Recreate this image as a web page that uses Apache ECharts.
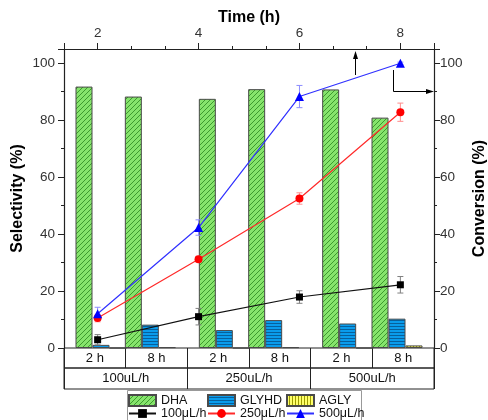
<!DOCTYPE html>
<html><head><meta charset="utf-8">
<script src="https://cdn.jsdelivr.net/npm/echarts@6/dist/echarts.min.js"></script>
<style>html,body{margin:0;padding:0;background:#fff}#c{width:488px;height:420px}</style>
</head><body><div id="c"></div>
<script>
// ---- data ----
const flowGroups = ['100uL/h', '250uL/h', '500uL/h'];
const sampleTimes = ['2 h', '8 h', '2 h', '8 h', '2 h', '8 h'];
const barX = [1, 2, 3.5, 4.5, 6, 7];            // bar positions on the (hidden) bottom axis
const dha = [91.8, 88.3, 87.5, 90.9, 90.8, 80.9];
const glyhd = [1.1, 8.2, 6.3, 9.8, 8.6, 10.3];
const agly = [0, 0.3, 0, 0.3, 0, 0.9];
const timeH = [2, 4, 6, 8];
const conv100 = [2.9, 11.0, 17.9, 22.2];
const conv250 = [10.5, 31.2, 52.5, 82.8];
const conv500 = [12.0, 42.3, 88.3, 100];
const err100 = [1.8, 2.9, 2.2, 2.9];
const err250 = [1.3, 1.0, 2.0, 3.2];
const err500 = [2.3, 2.7, 3.9, 0.4];
const timeTicks = [2, 4, 6, 8];
const selTicks = [0, 20, 40, 60, 80, 100];

// ---- patterns ----
function pattern(w, h, bg, fg, draw) {
  const c = document.createElement('canvas'); c.width = w; c.height = h;
  const g = c.getContext('2d'); g.fillStyle = bg; g.fillRect(0, 0, w, h);
  g.strokeStyle = fg; g.fillStyle = fg; g.lineWidth = 1; draw(g);
  return { image: c, repeat: 'repeat' };
}
const pDHA = pattern(5, 5, '#86e46c', '#3d9a2e', g => {
  g.beginPath(); g.moveTo(-1, 6); g.lineTo(6, -1); g.moveTo(-1, 1); g.lineTo(1, -1);
  g.moveTo(4, 6); g.lineTo(6, 4); g.stroke();
});
const pGLY = pattern(4, 3, '#0a9cec', '#07609c', g => { g.fillRect(0, 2, 4, 1); });
const pAGL = pattern(3, 4, '#ffff6a', '#9c9c00', g => { g.fillRect(2, 0, 1, 4); });

const FONT = '"Liberation Sans", Arial, sans-serif';

function errSeries(vals, errs, color) {
  return {
    type: 'custom', xAxisIndex: 1, yAxisIndex: 1, z: 3, silent: true,
    data: timeH.map((t, i) => [t, vals[i] - errs[i], vals[i] + errs[i]]),
    encode: { x: 0, y: [1, 2] },
    renderItem: (p, api) => {
      const lo = api.coord([api.value(0), api.value(1)]);
      const hi = api.coord([api.value(0), api.value(2)]);
      const w = 3, st = { stroke: color, lineWidth: 1 };
      return { type: 'group', children: [
        { type: 'line', shape: { x1: lo[0], y1: lo[1], x2: hi[0], y2: hi[1] }, style: st },
        { type: 'line', shape: { x1: lo[0] - w, y1: lo[1], x2: lo[0] + w, y2: lo[1] }, style: st },
        { type: 'line', shape: { x1: hi[0] - w, y1: hi[1], x2: hi[0] + w, y2: hi[1] }, style: st }
      ]};
    }
  };
}

const axisCol = '#222';
const valAxisCommon = {
  type: 'value', gridIndex: 0, min: 0, max: 105, interval: 20,
  nameLocation: 'middle', nameMoveOverlap: false,
  nameTextStyle: { fontWeight: 'bold', fontSize: 16, color: '#000', fontFamily: FONT },
  axisLine: { show: true, onZero: false, lineStyle: { color: axisCol, width: 1.2 } },
  axisTick: { show: true, length: 6, lineStyle: { color: axisCol } },
  minorTick: { show: true, splitNumber: 2, length: 3, lineStyle: { color: axisCol } },
  splitLine: { show: false },
  axisLabel: { fontSize: 13.5, color: '#333', fontFamily: FONT,
    formatter: v => selTicks.includes(v) ? String(v) : '' }
};

const legendCommon = {
  orient: 'vertical', top: 394, itemWidth: 27, itemHeight: 11, itemGap: 0, padding: 0,
  selectedMode: false,
  textStyle: { fontSize: 12.5, lineHeight: 13, color: '#111', fontFamily: FONT }
};

const gridCommon = { left: 64, right: 54, outerBoundsMode: 'none', containLabel: false };

const option = {
  animation: false,
  backgroundColor: '#fff',
  textStyle: { fontFamily: FONT },
  grid: [
    Object.assign({}, gridCommon, { top: 49, bottom: 72 }),
    Object.assign({}, gridCommon, { top: 348, height: 20, show: true, borderColor: '#222', borderWidth: 1, backgroundColor: 'transparent' }),
    Object.assign({}, gridCommon, { top: 368, height: 21, show: true, borderColor: '#222', borderWidth: 1, backgroundColor: 'transparent' })
  ],
  xAxis: [
    { type: 'value', gridIndex: 0, min: 0.25, max: 7.75, show: false },
    { type: 'value', gridIndex: 0, position: 'top', min: 4 / 3, max: 26 / 3, splitNumber: 4,
      name: 'Time (h)', nameLocation: 'middle', nameGap: 23, nameMoveOverlap: false,
      nameTextStyle: { fontWeight: 'bold', fontSize: 16, color: '#000', fontFamily: FONT },
      axisLine: { show: true, onZero: false, lineStyle: { color: axisCol, width: 1.2 } },
      axisTick: { show: true, length: 6, lineStyle: { color: axisCol } },
      minorTick: { show: true, splitNumber: 3, length: 3, lineStyle: { color: axisCol } },
      splitLine: { show: false },
      axisLabel: { fontSize: 13.5, color: '#333', margin: 9, fontFamily: FONT,
        formatter: v => timeTicks.includes(v) ? String(v) : '' } },
    { type: 'category', gridIndex: 1, position: 'top', data: sampleTimes,
      axisLine: { show: false }, axisTick: { show: false },
      splitLine: { show: true, interval: 0, lineStyle: { color: '#222' } },
      axisLabel: { inside: true, margin: 4, interval: 0, fontSize: 13, color: '#111', fontFamily: FONT } },
    { type: 'category', gridIndex: 2, position: 'top', data: flowGroups,
      axisLine: { show: false }, axisTick: { show: false },
      splitLine: { show: true, interval: 0, lineStyle: { color: '#222' } },
      axisLabel: { inside: true, margin: 4, interval: 0, fontSize: 13, color: '#111', fontFamily: FONT } }
  ],
  yAxis: [
    Object.assign({}, valAxisCommon, { position: 'left', name: 'Selectivity (%)', nameGap: 38,
      axisLabel: Object.assign({}, valAxisCommon.axisLabel, { margin: 9 }) }),
    Object.assign({}, valAxisCommon, { position: 'right', name: 'Conversion (%)', nameGap: 38,
      axisLabel: Object.assign({}, valAxisCommon.axisLabel, { margin: 6 }) }),
    { type: 'value', gridIndex: 1, show: false },
    { type: 'value', gridIndex: 2, show: false }
  ],
  legend: [
    Object.assign({}, legendCommon, { left: 128, data: [{ name: 'DHA', icon: 'rect' }, '100μL/h'] }),
    Object.assign({}, legendCommon, { left: 207, data: [{ name: 'GLYHD', icon: 'rect' }, '250μL/h'] }),
    Object.assign({}, legendCommon, { left: 286, data: [{ name: 'AGLY', icon: 'rect' }, '500μL/h'] })
  ],
  graphic: [
    { type: 'rect', z: 0, shape: { x: 127.5, y: 390.5, width: 234, height: 40 }, style: { fill: 'none', stroke: '#999', lineWidth: 1 } },
    { type: 'line', shape: { x1: 355.5, y1: 75, x2: 355.5, y2: 57 }, style: { stroke: '#000', lineWidth: 1 } },
    { type: 'polygon', shape: { points: [[355.5, 51], [353, 59], [358, 59]] }, style: { fill: '#000' } },
    { type: 'polyline', shape: { points: [[393.5, 70], [393.5, 91.5], [428, 91.5]] }, style: { stroke: '#000', lineWidth: 1, fill: 'none' } },
    { type: 'polygon', shape: { points: [[434, 91.5], [426, 89], [426, 94]] }, style: { fill: '#000' } }
  ],
  series: [
    { type: 'bar', name: 'DHA', xAxisIndex: 0, yAxisIndex: 0, barWidth: 17, barGap: '0%',
      data: barX.map((x, i) => [x, dha[i]]),
      itemStyle: { color: pDHA, borderColor: '#4a4a4a', borderWidth: 1 } },
    { type: 'bar', name: 'GLYHD', xAxisIndex: 0, yAxisIndex: 0, barWidth: 17, barGap: '0%',
      data: barX.map((x, i) => [x, glyhd[i]]),
      itemStyle: { color: pGLY, borderColor: '#4a4a4a', borderWidth: 1 } },
    { type: 'bar', name: 'AGLY', xAxisIndex: 0, yAxisIndex: 0, barWidth: 17, barGap: '0%',
      data: barX.map((x, i) => [x, agly[i]]),
      itemStyle: { color: pAGL, borderColor: '#4a4a4a', borderWidth: 1 } },
    errSeries(conv100, err100, '#808080'),
    errSeries(conv250, err250, '#ff8c8c'),
    errSeries(conv500, err500, '#8c8cff'),
    { type: 'line', name: '100μL/h', xAxisIndex: 1, yAxisIndex: 1, z: 4,
      data: timeH.map((t, i) => [t, conv100[i]]),
      symbol: 'rect', symbolSize: 7,
      itemStyle: { color: '#000' }, lineStyle: { color: '#111', width: 1.2 } },
    { type: 'line', name: '250μL/h', xAxisIndex: 1, yAxisIndex: 1, z: 4,
      data: timeH.map((t, i) => [t, conv250[i]]),
      symbol: 'circle', symbolSize: 8,
      itemStyle: { color: '#ff0000' }, lineStyle: { color: '#ff2a2a', width: 1.2 } },
    { type: 'line', name: '500μL/h', xAxisIndex: 1, yAxisIndex: 1, z: 4,
      data: timeH.map((t, i) => [t, conv500[i]]),
      symbol: 'triangle', symbolSize: 9,
      itemStyle: { color: '#0000ff' }, lineStyle: { color: '#3030ff', width: 1.2 } }
  ]
};

const chart = echarts.init(document.getElementById('c'), null, { renderer: 'canvas' });
chart.setOption(option);
</script>
</body></html>
